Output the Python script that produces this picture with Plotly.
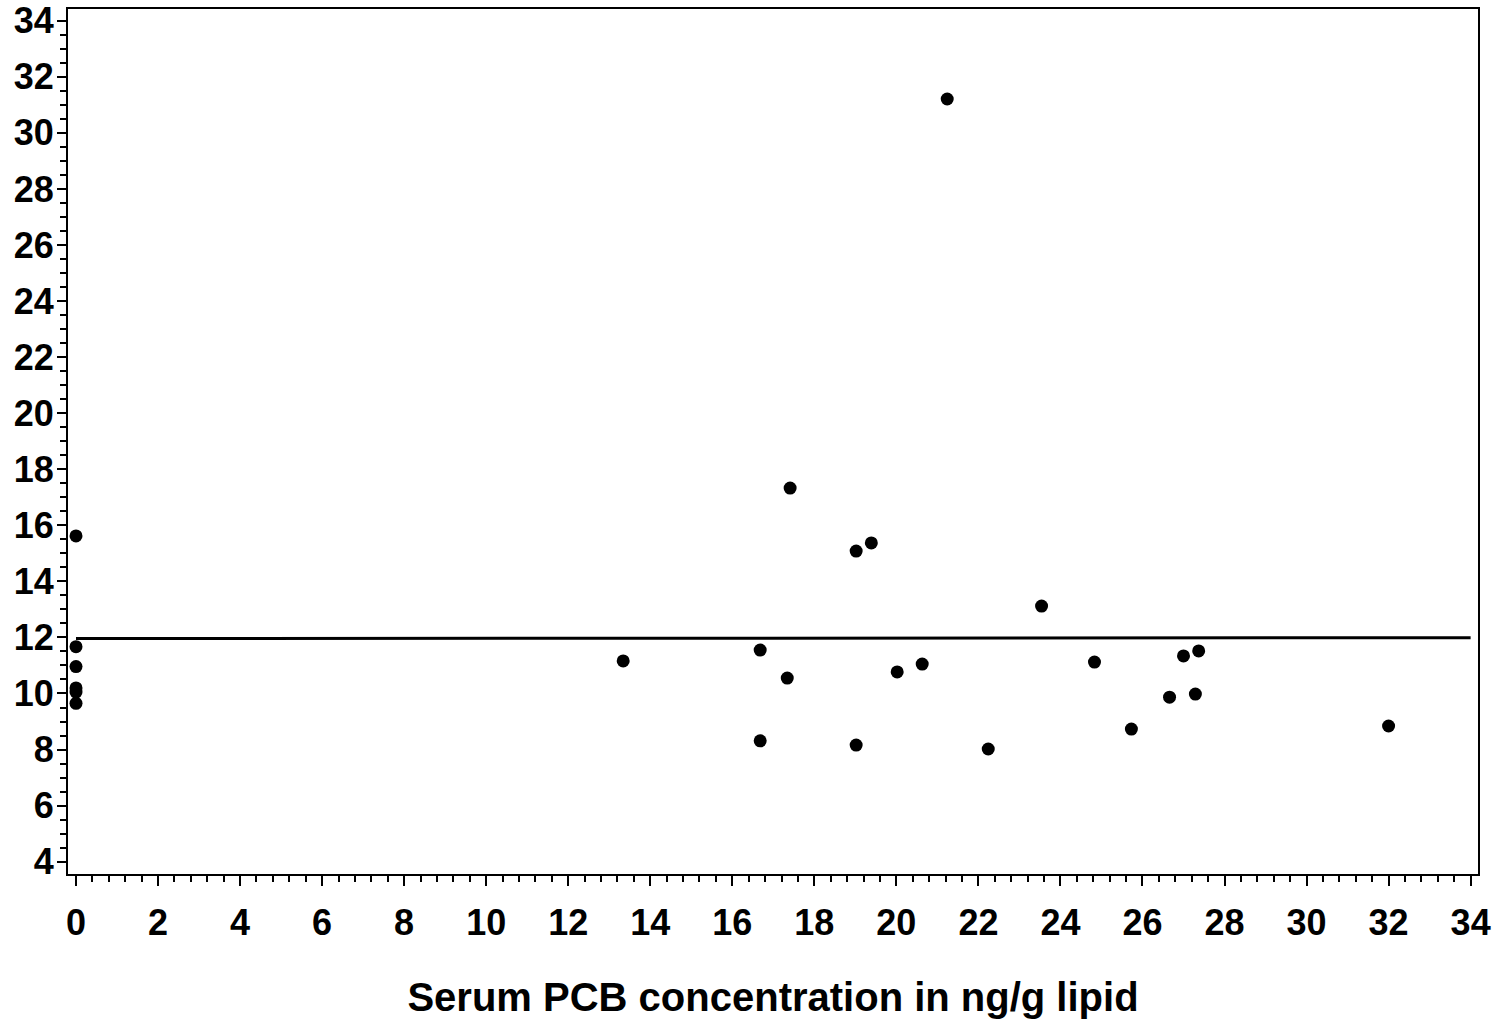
import plotly.graph_objects as go

pcb = [0, 0, 0, 0, 0, 0,
       13.34, 16.68, 16.68, 17.41, 17.34, 19.02, 19.39, 19.02, 20.02, 20.63,
       21.24, 22.24, 23.54, 24.83, 25.73, 26.66, 27.0, 27.37, 27.29, 32.0]
outcome = [15.62, 11.67, 10.96, 10.2, 10.05, 9.65,
           11.16, 11.55, 8.31, 17.33, 10.55, 15.08, 15.37, 8.16, 10.77, 11.05,
           31.21, 8.02, 13.12, 11.12, 8.73, 9.87, 11.34, 11.52, 9.98, 8.84]
fit_x = [0, 34]
fit_y = [11.96, 11.99]

x_ticks = list(range(0, 35, 2))
y_ticks = list(range(4, 35, 2))

fig = go.Figure()
fig.add_trace(go.Scatter(x=fit_x, y=fit_y, mode="lines",
                         line=dict(color="black", width=3), showlegend=False))
fig.add_trace(go.Scatter(x=pcb, y=outcome, mode="markers",
                         marker=dict(color="black", size=13, symbol="circle"),
                         showlegend=False))

font = dict(family="Liberation Sans, Arial, sans-serif", size=36, color="black")

fig.update_layout(
    width=1497, height=1019,
    margin=dict(l=68, r=19, t=9, b=145),
    plot_bgcolor="white", paper_bgcolor="white",
    font=font,
    hovermode=False,
    xaxis=dict(
        range=[-0.195, 34.18], tickvals=x_ticks, ticktext=[f"<b>{v}</b>" for v in x_ticks],
        ticks="outside", ticklen=10, tickwidth=2, tickcolor="black",
        showline=True, linewidth=2, linecolor="black", mirror=True,
        showgrid=False, zeroline=False, ticklabelstandoff=6, automargin=False,
        ticklabeloverflow="allow",
        minor=dict(dtick=0.4, tick0=0, ticks="outside", ticklen=6, tickwidth=2,
                   tickcolor="black", showgrid=False),
        title=dict(text="<b>Serum PCB concentration in ng/g lipid</b>",
                   font=dict(size=40), standoff=47),
    ),
    yaxis=dict(
        range=[3.56, 34.42], tickvals=y_ticks, ticktext=[f"<b>{v}</b>" for v in y_ticks],
        ticks="outside", ticklen=9, tickwidth=2, tickcolor="black",
        showline=True, linewidth=2, linecolor="black", mirror=True,
        showgrid=False, zeroline=False, ticklabelstandoff=-4, automargin=False,
        ticklabeloverflow="allow",
        minor=dict(dtick=0.5, tick0=0, ticks="outside", ticklen=6, tickwidth=2,
                   tickcolor="black", showgrid=False),
    ),
)

fig.write_html("out.html", config={"displayModeBar": False},
               post_script="document.body.style.margin='0px';")
